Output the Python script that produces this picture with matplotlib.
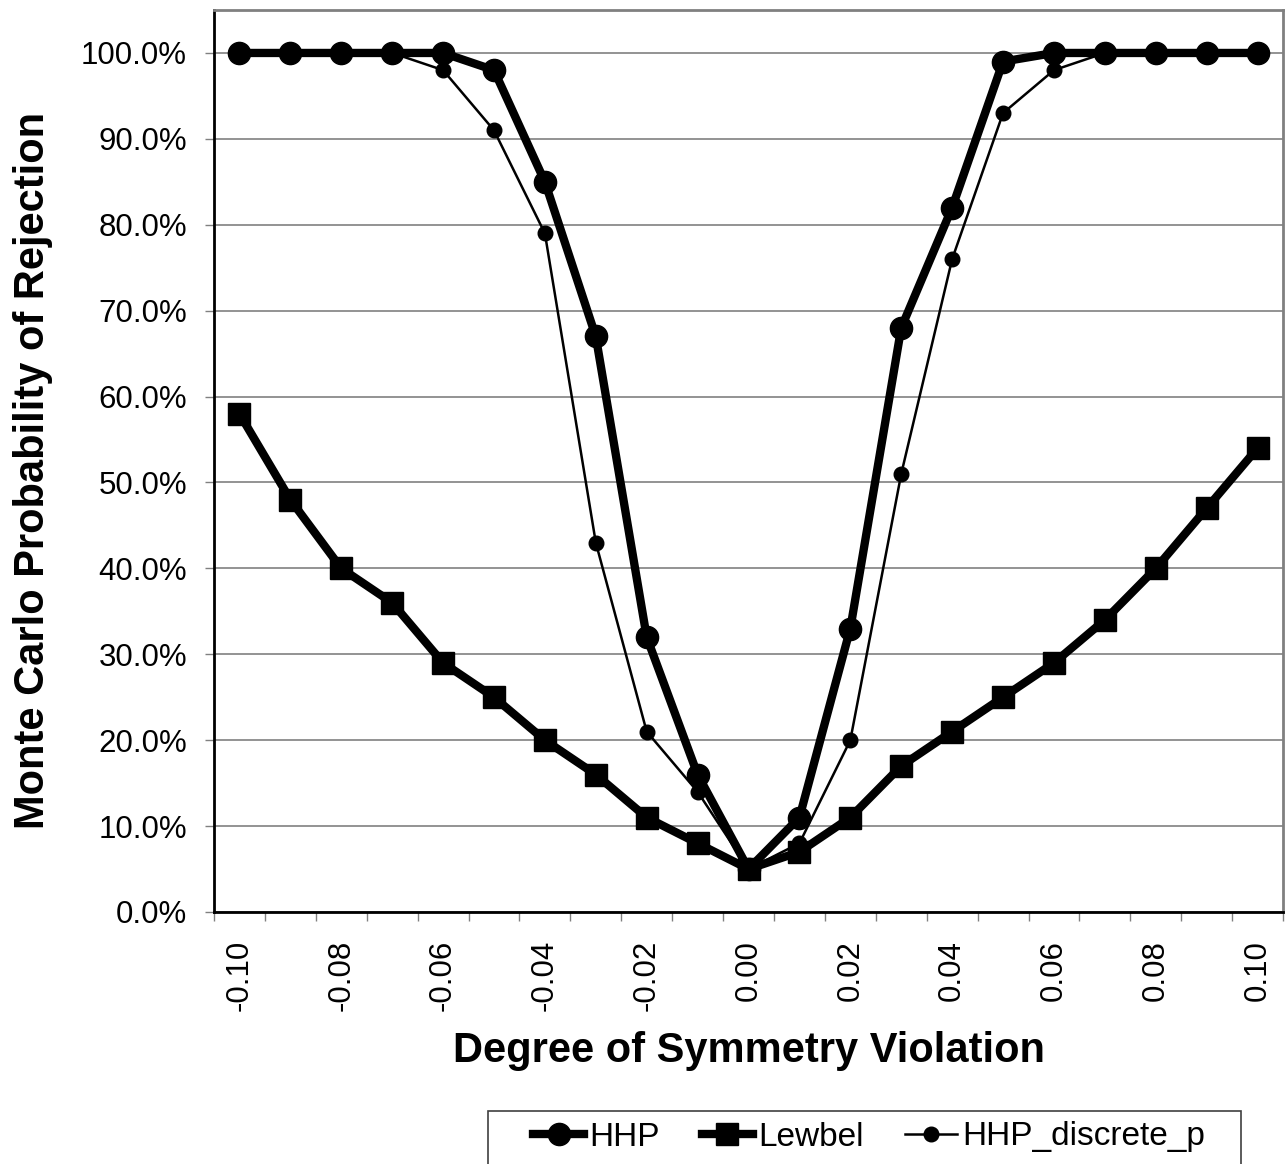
import matplotlib
matplotlib.use('Agg')
import matplotlib.pyplot as plt
from matplotlib.patches import Rectangle
from matplotlib.ticker import PercentFormatter

plt.rcParams['font.family'] = ['Liberation Sans', 'DejaVu Sans']

# Degree of symmetry violation (x categories)
violation = ['-0.10', '-0.09', '-0.08', '-0.07', '-0.06', '-0.05', '-0.04', '-0.03', '-0.02', '-0.01',
             '0.00', '0.01', '0.02', '0.03', '0.04', '0.05', '0.06', '0.07', '0.08', '0.09', '0.10']

# Monte Carlo rejection probabilities (%)
hhp = [100, 100, 100, 100, 100, 98, 85, 67, 32, 16, 5, 11, 33, 68, 82, 99, 100, 100, 100, 100, 100]
lewbel = [58, 48, 40, 36, 29, 25, 20, 16, 11, 8, 5, 7, 11, 17, 21, 25, 29, 34, 40, 47, 54]
hhp_discrete = [100, 100, 100, 100, 98, 91, 79, 43, 21, 14, 5, 8, 20, 51, 76, 93, 98, 100, 100, 100, 100]

fig = plt.figure(figsize=(12.86, 11.64), dpi=100)
ax = fig.add_axes([0.1664, 0.2165, 0.9977 - 0.1664, 0.9914 - 0.2165])

x = range(len(violation))
ax.plot(x, hhp, color='black', lw=6, marker='o', ms=16, label='HHP', zorder=3)
ax.plot(x, lewbel, color='black', lw=6, marker='s', ms=15.5, label='Lewbel', zorder=3)
ax.plot(x, hhp_discrete, color='black', lw=1.8, marker='o', ms=10.5, label='HHP_discrete_p', zorder=4)

ax.set_xlim(-0.5, len(violation) - 0.5)
ax.set_ylim(0, 105)
ax.set_yticks(range(0, 101, 10))
ax.yaxis.set_major_formatter(PercentFormatter(decimals=1))
ax.grid(axis='y', color='#808080', lw=1.2)
ax.set_axisbelow(True)

# category ticks between points, labels every other category
ax.set_xticks([i - 0.5 for i in range(len(violation) + 1)])
ax.set_xticklabels([])
ax.set_xticks(list(x)[::2], minor=True)
ax.set_xticklabels(violation[::2], minor=True, rotation=90)
ax.tick_params(axis='x', which='minor', length=0, pad=20, labelsize=22.5)
ax.tick_params(axis='x', which='major', length=6.5, width=1, color='#808080', direction='out')
ax.tick_params(axis='y', length=6.5, width=1, color='#808080', labelsize=22.5, pad=13)

for side in ['top', 'right']:
    ax.spines[side].set_color('#808080')
    ax.spines[side].set_linewidth(2)
ax.spines['left'].set_linewidth(2)
ax.spines['bottom'].set_linewidth(2)

ax.set_xlabel('Degree of Symmetry Violation', fontsize=30, fontweight='bold')
ax.set_ylabel('Monte Carlo Probability of Rejection', fontsize=30, fontweight='bold')
ax.xaxis.set_label_coords(0.5, -0.132)
ax.yaxis.set_label_coords(-0.151, 0.49)

leg = fig.legend(loc='center left', bbox_to_anchor=(516 / 1286, 1 - 1137 / 1164), ncol=3,
                 fontsize=24, frameon=False, borderpad=0, handlelength=1.55, handletextpad=0.15,
                 columnspacing=1.25)

# legend box, running off the bottom edge like the original
fig.add_artist(Rectangle((488 / 1286, -0.01), (1241 - 488) / 1286, 0.01 + 1 - 1111 / 1164,
                         transform=fig.transFigure, fill=False, edgecolor='#404040', lw=1.2,
                         clip_on=False))

plt.savefig('out.png', dpi=100)
